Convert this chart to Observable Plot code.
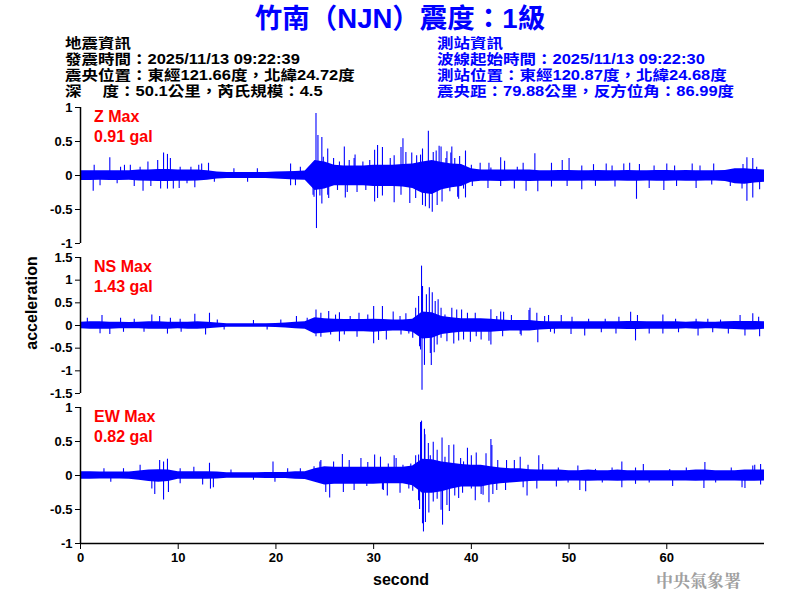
<!DOCTYPE html>
<html><head><meta charset="utf-8">
<script src="https://cdn.jsdelivr.net/npm/d3@7"></script>
<script src="https://cdn.jsdelivr.net/npm/@observablehq/plot@0.6"></script>
<style>
body{margin:0;background:#fff;}
#root{position:relative;width:800px;height:600px;overflow:hidden;background:#fff;font-family:"Liberation Sans",Arial,sans-serif;}
.abs{position:absolute;white-space:pre;font-family:"Liberation Sans","Noto Sans CJK TC",sans-serif;font-weight:bold;}
.plot{position:absolute;left:0;}
</style></head>
<body><div id="root"></div>
<script>
// ---- data ----
const seconds = [0,1,2,3,4,5,6,7,8,9,10,11,12,13,14,15,16,17,18,19,20,21,22,23,24,25,26,27,28,29,30,31,32,33,34,35,36,37,38,39,40,41,42,43,44,45,46,47,48,49,50,51,52,53,54,55,56,57,58,59,60,61,62,63,64,65,66,67,68,69,70];
const xTicks = [0,10,20,30,40,50,60];

// Z component: dense noise core (upper / lower per second) and individual peaks [t, value]
const zHi = [0.07,0.07,0.07,0.07,0.07,0.07,0.08,0.08,0.09,0.09,
  0.08,0.08,0.08,0.07,0.05,0.045,0.045,0.045,0.045,0.045,
  0.05,0.055,0.06,0.065,0.22,0.2,0.15,0.14,0.14,0.14,
  0.15,0.15,0.15,0.16,0.17,0.2,0.22,0.19,0.17,0.16,
  0.1,0.08,0.08,0.08,0.08,0.08,0.08,0.07,0.07,0.075,
  0.075,0.07,0.07,0.075,0.07,0.07,0.075,0.07,0.07,0.075,
  0.075,0.07,0.075,0.07,0.07,0.07,0.075,0.1,0.1,0.09,0.08];
const zLo = [-0.075,-0.075,-0.07,-0.075,-0.075,-0.07,-0.08,-0.085,-0.09,-0.09,
  -0.085,-0.085,-0.08,-0.07,-0.05,-0.045,-0.045,-0.045,-0.045,-0.045,
  -0.05,-0.06,-0.065,-0.07,-0.22,-0.2,-0.15,-0.15,-0.15,-0.15,
  -0.16,-0.16,-0.16,-0.17,-0.19,-0.26,-0.28,-0.21,-0.18,-0.16,
  -0.1,-0.085,-0.085,-0.09,-0.085,-0.085,-0.09,-0.085,-0.085,-0.085,
  -0.085,-0.085,-0.08,-0.085,-0.085,-0.08,-0.085,-0.085,-0.08,-0.085,
  -0.085,-0.08,-0.085,-0.085,-0.08,-0.08,-0.09,-0.12,-0.13,-0.11,-0.1];
const zSpikes = [[1.3,-0.23],[1.4,0.15],[2.0,-0.15],[3.0,0.26],[3.75,-0.12],[4.1,0.12],[4.5,0.15],[5.1,0.15],[5.5,-0.16],[6.1,0.12],[6.4,-0.23],[6.9,0.2],[7.2,-0.16],[7.9,0.22],[8.2,-0.2],[8.5,0.33],[8.9,0.31],[8.9,-0.2],[9.2,0.25],[9.5,-0.2],[10.1,-0.19],[10.2,0.12],[10.9,-0.12],[11.3,0.12],[11.7,-0.18],[12.1,0.15],[12.4,0.17],[13.1,0.18],[13.7,-0.1],[15.7,0.1],[17.1,-0.1],[18.1,0.1],[21.5,0.17],[21.5,-0.15],[22.0,-0.15],[22.5,0.12],
  [23.8,-0.29],[23.9,-0.32],[24.1,0.91],[24.15,-0.78],[24.3,0.59],[24.5,-0.3],[24.7,0.56],[24.7,-0.42],[24.85,0.27],[25.3,0.39],[25.3,-0.29],[25.4,-0.34],[25.9,0.25],[26.3,-0.22],[26.5,0.2],[27.0,0.42],[27.1,-0.33],[27.3,-0.25],[27.5,0.22],[28.0,0.25],[28.1,0.3],[28.3,-0.25],[28.9,0.2],[29.6,0.22],[29.2,-0.22],[30.1,0.37],[30.1,-0.39],[30.4,0.44],[30.4,-0.34],[30.9,0.41],[30.9,-0.3],[31.7,0.25],[32.1,0.29],[32.1,-0.40],[32.8,0.41],[32.8,-0.29],[33.0,0.54],[33.3,0.34],[33.7,-0.41],[33.9,0.33],[34.3,-0.34],[34.4,0.29],[34.8,0.3],[35.0,0.39],[35.0,-0.44],[35.3,-0.46],[35.6,0.65],[35.7,-0.49],[36.0,-0.54],[36.1,0.34],[36.4,0.36],[36.5,-0.44],[36.7,0.43],[36.9,0.42],[37.0,-0.39],[37.4,0.25],[37.5,0.35],[37.8,-0.24],[37.9,0.33],[38.0,0.42],[38.3,0.25],[38.6,-0.32],[38.7,-0.35],[38.8,0.28],[39.2,-0.2],[39.4,0.36],[39.4,-0.33],[40.0,0.15],[40.1,-0.16],
  [40.9,0.18],[41.7,-0.19],[41.8,0.18],[42.0,0.11],[43.0,0.26],[43.0,-0.16],[43.4,0.21],[44.4,-0.2],[44.7,0.12],[45.3,0.18],[45.6,-0.23],[46.5,0.32],[46.8,-0.24],[48.2,0.18],[48.2,-0.17],[49.3,0.22],[49.8,-0.16],[50.0,0.25],[51.3,0.14],[51.3,-0.21],[52.5,0.16],[52.7,-0.16],[53.8,0.17],[54.4,0.14],[54.7,-0.17],[55.6,0.17],[56.2,0.18],[56.9,-0.35],[57.2,0.16],[58.2,-0.19],[58.7,0.14],[59.7,-0.22],[60.0,0.17],[60.8,0.14],[61.0,-0.16],[62.6,0.17],[63.0,-0.19],[63.4,0.14],[64.6,-0.14],[64.8,0.17],[66.5,-0.16],[67.7,-0.2],[67.8,0.16],[68.2,0.26],[68.2,-0.38],[68.8,0.25],[68.8,-0.33],[69.2,0.12],[69.5,-0.21]];

// NS component
const nsHi = [0.07,0.08,0.08,0.07,0.07,0.065,0.07,0.08,0.08,0.07,
  0.07,0.07,0.08,0.07,0.055,0.04,0.04,0.04,0.04,0.04,
  0.045,0.055,0.07,0.08,0.17,0.15,0.14,0.13,0.13,0.13,
  0.14,0.13,0.12,0.12,0.14,0.3,0.28,0.2,0.17,0.15,
  0.15,0.15,0.14,0.12,0.11,0.11,0.11,0.09,0.085,0.08,
  0.08,0.08,0.08,0.08,0.08,0.08,0.09,0.09,0.08,0.08,
  0.08,0.08,0.07,0.08,0.07,0.07,0.08,0.09,0.09,0.09,0.08];
const nsLo = [-0.07,-0.08,-0.08,-0.08,-0.07,-0.07,-0.07,-0.08,-0.08,-0.08,
  -0.07,-0.08,-0.08,-0.07,-0.055,-0.04,-0.04,-0.04,-0.04,-0.04,
  -0.045,-0.055,-0.07,-0.08,-0.19,-0.17,-0.15,-0.14,-0.14,-0.14,
  -0.15,-0.13,-0.12,-0.12,-0.15,-0.3,-0.28,-0.2,-0.17,-0.15,
  -0.15,-0.15,-0.15,-0.13,-0.12,-0.12,-0.12,-0.1,-0.09,-0.085,
  -0.085,-0.08,-0.08,-0.08,-0.08,-0.085,-0.09,-0.09,-0.08,-0.08,
  -0.08,-0.08,-0.07,-0.08,-0.07,-0.07,-0.08,-0.09,-0.1,-0.1,-0.085];
const nsSpikes = [[0.7,0.16],[2.0,-0.18],[2.2,0.22],[3.0,-0.2],[4.1,0.16],[4.4,-0.15],[5.5,0.14],[6.5,-0.15],[7.3,0.23],[8.1,0.2],[8.9,-0.19],[9.2,0.16],[10.2,0.14],[10.3,-0.15],[11.7,0.25],[12.8,-0.21],[13.2,0.27],[14.0,0.12],[14.7,-0.1],[17.7,0.11],[19.1,-0.1],[20.5,0.12],[22.1,0.2],[23.2,0.16],
  [24.1,0.34],[24.1,-0.25],[24.6,0.27],[24.6,-0.26],[25.4,0.31],[25.6,-0.21],[26.1,0.23],[26.5,-0.36],[26.5,0.28],[27.0,-0.21],[27.6,0.2],[28.3,-0.26],[28.5,0.27],[29.4,0.23],[30.0,0.42],[30.0,-0.4],[30.5,-0.33],[30.9,0.42],[31.3,-0.32],[32.0,0.3],[32.7,0.2],[32.8,-0.21],[33.3,0.26],[33.6,-0.19],[34.0,-0.28],[34.3,0.38],
  [34.6,0.64],[34.7,-0.47],[34.8,-0.54],[34.9,1.31],[34.95,-1.43],[35.0,0.86],[35.2,-0.88],[35.4,0.68],[35.7,0.83],[35.8,-0.62],[35.9,-0.88],[36.0,0.72],[36.2,-0.6],[36.3,0.53],[36.5,-0.43],[36.6,0.57],[36.9,0.38],[36.9,-0.28],[37.3,0.23],[37.5,-0.36],[38.0,0.38],[38.2,-0.41],[38.5,0.34],[38.7,-0.34],[39.0,0.34],[39.2,-0.32],[39.6,0.27],[39.9,-0.37],[40.4,0.27],[40.5,-0.25],[41.0,-0.32],[41.8,-0.35],[42.0,0.35],[42.0,-0.43],[42.6,0.2],[43.0,0.3],[43.2,-0.25],[43.3,0.29],[44.1,0.22],[45.0,-0.2],[45.1,-0.23],[45.9,0.33],[46.0,0.38],[46.7,0.27],[46.8,-0.38],[47.5,0.2],[47.9,0.22],[48.1,-0.15],[48.5,-0.19],[49.2,0.22],[50.2,-0.2],[50.3,0.18],[51.6,-0.23],[52.0,0.14],[53.3,-0.16],[53.7,0.14],[54.8,-0.19],[55.1,0.18],[56.3,0.29],[56.8,-0.34],[57.0,0.22],[58.2,-0.19],[59.6,0.23],[59.6,-0.19],[60.9,0.14],[61.2,-0.16],[63.0,0.14],[63.2,-0.23],[64.2,0.14],[64.7,-0.16],[65.5,0.12],[66.3,-0.19],[67.5,0.22],[68.0,-0.23],[68.8,0.26],[69.4,0.18],[69.5,-0.25]];

// EW component
const ewHi = [0.055,0.055,0.05,0.05,0.05,0.05,0.065,0.08,0.085,0.08,
  0.055,0.055,0.055,0.055,0.05,0.04,0.04,0.04,0.04,0.045,
  0.045,0.045,0.055,0.055,0.1,0.13,0.12,0.12,0.12,0.12,
  0.12,0.12,0.12,0.12,0.14,0.24,0.23,0.2,0.18,0.16,
  0.15,0.15,0.13,0.11,0.1,0.1,0.085,0.08,0.08,0.08,
  0.07,0.07,0.08,0.07,0.07,0.08,0.07,0.07,0.07,0.07,
  0.07,0.07,0.07,0.08,0.08,0.07,0.07,0.07,0.08,0.08,0.08];
const ewLo = [-0.055,-0.055,-0.05,-0.05,-0.05,-0.055,-0.07,-0.09,-0.1,-0.09,
  -0.055,-0.055,-0.055,-0.055,-0.05,-0.04,-0.04,-0.04,-0.04,-0.045,
  -0.045,-0.045,-0.055,-0.06,-0.1,-0.14,-0.13,-0.13,-0.13,-0.13,
  -0.13,-0.12,-0.12,-0.12,-0.15,-0.26,-0.26,-0.24,-0.2,-0.17,
  -0.17,-0.17,-0.14,-0.12,-0.11,-0.1,-0.09,-0.085,-0.085,-0.085,
  -0.08,-0.08,-0.085,-0.08,-0.08,-0.085,-0.08,-0.08,-0.08,-0.08,
  -0.08,-0.08,-0.08,-0.085,-0.08,-0.08,-0.08,-0.08,-0.085,-0.085,-0.08];
const ewSpikes = [[2.4,0.1],[3.1,-0.1],[4.4,0.1],[6.1,0.15],[7.3,-0.2],[7.6,-0.28],[8.1,0.22],[8.5,-0.36],[8.5,0.2],[8.9,0.24],[9.0,-0.25],[10.2,0.1],[10.2,-0.12],[11.6,0.12],[12.5,-0.14],[13.2,0.18],[13.3,-0.2],[13.6,-0.18],[15.4,0.08],[17.7,-0.07],[19.7,0.2],[19.9,-0.1],[21.2,0.1],[22.5,0.1],[23.9,0.13],
  [24.5,0.2],[24.6,0.22],[25.1,-0.25],[25.5,-0.33],[25.9,0.2],[26.8,0.31],[26.9,-0.25],[27.5,0.22],[28.0,-0.22],[28.7,0.25],[29.3,-0.16],[29.4,0.19],[30.1,0.3],[30.7,0.27],[30.9,-0.21],[31.0,-0.22],[31.4,-0.3],[31.5,0.17],[32.1,0.29],[32.3,0.25],[32.7,-0.26],[33.0,0.15],[33.6,-0.2],[33.8,0.17],[34.0,-0.23],[34.3,0.29],
  [34.6,0.3],[34.6,-0.37],[34.7,-0.5],[34.8,0.78],[34.9,0.8],[35.0,-0.71],[35.1,-0.83],[35.2,0.68],[35.25,0.6],[35.3,-0.69],[35.6,0.47],[35.65,-0.55],[35.8,0.29],[36.1,0.49],[36.1,-0.39],[36.5,0.37],[36.5,-0.35],[36.9,-0.51],[37.0,0.55],[37.05,-0.73],[37.3,0.27],[37.5,-0.44],[37.7,0.44],[37.75,-0.53],[38.2,0.45],[38.3,-0.3],[38.7,-0.34],[38.9,0.25],[39.1,-0.26],[39.2,0.2],[39.6,0.4],[40.0,0.29],[40.0,-0.2],[40.4,-0.37],[40.5,0.33],[41.0,-0.28],[41.2,-0.29],[41.5,0.32],[41.8,-0.4],[42.0,0.53],[42.1,0.44],[42.2,-0.28],[42.6,-0.22],[42.7,0.22],[43.5,-0.22],[43.6,0.22],[44.4,0.22],[45.0,0.27],[45.3,-0.18],[45.7,-0.3],[45.8,0.15],[46.7,-0.2],[46.9,0.29],[47.3,0.16],[48.7,-0.17],[48.9,0.11],[49.9,-0.11],[50.9,0.14],[51.1,-0.22],[51.7,-0.24],[52.7,0.09],[53.4,-0.11],[54.4,0.11],[55.4,0.2],[55.4,-0.18],[56.8,0.11],[56.8,-0.13],[57.6,0.16],[58.2,-0.11],[60.3,0.09],[60.6,-0.16],[62.0,0.11],[63.8,-0.19],[63.9,0.19],[65.0,-0.11],[66.6,0.11],[67.7,-0.18],[68.0,-0.19],[68.8,0.14],[69.0,0.15],[69.6,0.16],[69.6,-0.14]];

const yTicks1 = [-1,-0.5,0,0.5,1];
const yTicks2 = [-1.5,-1,-0.5,0,0.5,1,1.5];

// ---- text ----
const titleText = "竹南（NJN）震度：1級";
const leftInfo = ["地震資訊","發震時間：2025/11/13 09:22:39","震央位置：東經121.66度，北緯24.72度","深　 度：50.1公里，芮氏規模：4.5"];
const rightInfo = ["測站資訊","波線起始時間：2025/11/13 09:22:30","測站位置：東經120.87度，北緯24.68度","震央距：79.88公里，反方位角：86.99度"];
const maxLabels = [["Z Max","0.91 gal"],["NS Max","1.43 gal"],["EW Max","0.82 gal"]];

const BLUE = "#0000ff";
const root = document.getElementById("root");

function panel(hi, lo, spikes, yDomain, yTicks, top, height, mb, withX) {
  const band = seconds.map((t, i) => ({t, hi: hi[i], lo: lo[i]}));
  const sp = spikes.map(([t, v]) => ({t, v}));
  const marks = [
    Plot.areaY(band, {x: "t", y1: "lo", y2: "hi", fill: BLUE}),
    Plot.ruleX(sp, {x: "t", y1: d => 0, y2: "v", stroke: BLUE, strokeWidth: 1.1}),
    Plot.axisY({ticks: yTicks, tickFormat: d => String(d), tickSize: 5, tickPadding: 3, label: null, fontSize: 13, fontWeight: "bold"}),
    Plot.ruleX([0], {stroke: "#000", strokeWidth: 1.5})
  ];
  if (withX) {
    marks.push(Plot.axisX({ticks: xTicks, tickFormat: d => String(d), tickSize: 6, tickPadding: 3, label: null, fontSize: 13, fontWeight: "bold"}));
    marks.push(Plot.ruleY([yDomain[0]], {stroke: "#000", strokeWidth: 1.5}));
  }
  const svg = Plot.plot({
    width: 800, height,
    marginLeft: 80, marginRight: 36, marginTop: 7, marginBottom: mb,
    x: {domain: [0, 70], axis: null},
    y: {domain: yDomain, axis: null},
    style: {fontFamily: "'Liberation Sans', Arial, sans-serif", fontSize: "13px", fontWeight: "bold", color: "#000", background: "transparent", overflow: "visible"},
    marks
  });
  svg.classList.add("plot");
  svg.style.top = top + "px";
  root.appendChild(svg);
}

panel(zHi, zLo, zSpikes, [-1, 1], yTicks1, 100, 150, 7, false);
panel(nsHi, nsLo, nsSpikes, [-1.5, 1.5], yTicks2, 250, 150, 7, false);
panel(ewHi, ewLo, ewSpikes, [-1, 1], yTicks1, 400, 200, 57, true);

function addDiv(text, css) {
  const d = document.createElement("div");
  d.className = "abs";
  d.textContent = text;
  Object.assign(d.style, css);
  root.appendChild(d);
  return d;
}

addDiv(titleText, {left: "0px", width: "800px", textAlign: "center", top: "3px", fontSize: "27.5px", lineHeight: "32px", color: BLUE});
const infoCss = {top: "35px", fontSize: "16.5px", lineHeight: "18.6px", transform: "scaleY(0.86)", transformOrigin: "top left"};
addDiv(leftInfo.join("\n"), Object.assign({left: "65px", color: "#000"}, infoCss));
addDiv(rightInfo.join("\n"), Object.assign({left: "437px", color: BLUE}, infoCss));
[107, 257, 407].forEach((t, i) => {
  addDiv(maxLabels[i].join("\n"), {left: "94px", top: t + "px", fontSize: "16px", lineHeight: "20px", color: "#ff0000"});
});
addDiv("acceleration", {left: "32px", top: "303px", fontSize: "16px", lineHeight: "18px", color: "#000", transform: "translate(-50%,-50%) rotate(-90deg)"});
addDiv("second", {left: "401px", top: "580px", fontSize: "16px", lineHeight: "18px", color: "#000", transform: "translate(-50%,-50%)"});
addDiv("中央氣象署", {left: "656px", top: "570px", fontSize: "17px", lineHeight: "20px", color: "#a0a0a0", fontFamily: "'Noto Serif CJK TC','Noto Sans CJK TC',sans-serif"});
</script>
</body></html>
